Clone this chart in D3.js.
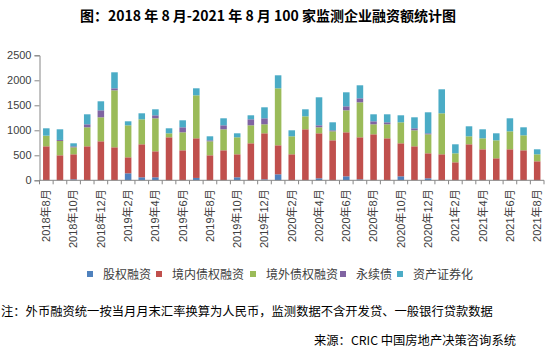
<!DOCTYPE html>
<html><head><meta charset="utf-8">
<script src="https://cdn.jsdelivr.net/npm/d3@7"></script>
<style>
html,body{margin:0;padding:0;background:#fff;}
svg{display:block;}
text{font-family:"Liberation Sans","Noto Sans CJK SC",sans-serif;}
</style></head>
<body>
<script>
const months = ["2018年8月","2018年9月","2018年10月","2018年11月","2018年12月","2019年1月","2019年2月","2019年3月","2019年4月","2019年5月","2019年6月","2019年7月","2019年8月","2019年9月","2019年10月","2019年11月","2019年12月","2020年1月","2020年2月","2020年3月","2020年4月","2020年5月","2020年6月","2020年7月","2020年8月","2020年9月","2020年10月","2020年11月","2020年12月","2021年1月","2021年2月","2021年3月","2021年4月","2021年5月","2021年6月","2021年7月","2021年8月"];
const equity    = [0,0,20,0,0,0,140,60,60,0,0,47,0,0,60,0,20,120,0,0,40,0,80,20,0,0,80,0,40,0,0,0,0,0,0,0,0];
const domestic  = [680,500,500,680,780,660,320,660,520,860,600,793,500,600,460,740,920,580,520,1020,900,800,880,840,920,840,660,680,500,520,360,720,620,440,620,600,380];
const overseas  = [213,287,140,380,480,1140,640,500,660,80,360,860,280,420,340,360,180,1140,360,260,120,180,440,700,200,280,420,320,380,820,180,160,220,360,360,300,140];
const perpetual = [0,20,20,60,140,40,0,0,60,0,100,0,20,80,0,120,120,0,0,0,40,20,80,80,60,40,0,40,20,0,0,0,0,0,0,0,0];
const abs       = [147,213,60,200,180,320,80,120,120,100,140,140,80,140,80,80,220,260,120,140,560,160,280,260,140,160,140,220,420,480,180,200,180,140,260,160,100];
const seriesNames = ["股权融资","境内债权融资","境外债权融资","永续债","资产证券化"];
const colors = ["#4F81BD","#C0504D","#9BBB59","#8064A2","#4BACC6"];
const yTicks = [0,500,1000,1500,2000,2500];
const titleText = "图：2018 年 8 月-2021 年 8 月 100 家监测企业融资额统计图";
const noteText = "注：外币融资统一按当月月末汇率换算为人民币，监测数据不含开发贷、一般银行贷款数据";
const sourceText = "来源：CRIC 中国房地产决策咨询系统";

const W = 558, H = 354;
const svg = d3.select("body").append("svg").attr("width", W).attr("height", H);

const keys = ["equity","domestic","overseas","perpetual","abs"];
const table = months.map((m,i)=>({month:m, equity:equity[i], domestic:domestic[i], overseas:overseas[i], perpetual:perpetual[i], abs:abs[i]}));
const stacked = d3.stack().keys(keys)(table);

const x0 = 39.5, x1 = 544;
const x = d3.scaleBand().domain(months).range([x0, x1]).paddingInner(0.52).paddingOuter(0.26);
const y = d3.scaleLinear().domain([0,2500]).range([180.3, 55.3]);

// bars
svg.append("g").selectAll("g").data(stacked).join("g")
  .attr("fill", (d,i)=>colors[i])
  .selectAll("rect").data(d=>d).join("rect")
  .attr("x", d=>x(d.data.month))
  .attr("width", x.bandwidth())
  .attr("y", d=>y(d[1]))
  .attr("height", d=>Math.max(0, y(d[0]) - y(d[1])));

const axisColor = "#868686";
// y axis
const yAxis = svg.append("g").attr("transform",`translate(${x0},0)`)
  .call(d3.axisLeft(y).tickValues(yTicks).tickSize(5).tickPadding(3).tickFormat(d3.format("d")));
yAxis.select(".domain").attr("stroke", axisColor);
yAxis.selectAll(".tick line").attr("stroke", axisColor);
yAxis.selectAll("text").attr("fill","#404040").style("font-size","11px");

// x axis with ticks at band boundaries
const xg = svg.append("g").attr("transform","translate(0,180.3)");
xg.append("line").attr("x1",x0).attr("x2",x1).attr("stroke",axisColor);
const bstep = (x1 - x0) / months.length;
xg.selectAll("line.tk").data(d3.range(months.length+1)).join("line").attr("class","tk")
  .attr("x1", i=> x0 + i*bstep).attr("x2", i=> x0 + i*bstep)
  .attr("y1",0).attr("y2",4).attr("stroke",axisColor);
xg.selectAll("text").data(months.filter((m,i)=>i%2===0)).join("text")
  .attr("transform", d=>`translate(${x(d)+x.bandwidth()/2},9) rotate(-90)`)
  .attr("text-anchor","end").attr("dy","0.35em")
  .attr("fill","#404040").style("font-size","11px")
  .text(d=>d);

// title
svg.append("text").attr("x",268).attr("y",20.5).attr("text-anchor","middle")
  .style("font-family","'Noto Sans CJK SC',sans-serif").style("font-weight","bold").style("font-size","14px")
  .attr("fill","#000").text(titleText);

// legend
const legendX = [87,156,250,340,397];
const lg = svg.append("g");
seriesNames.forEach((n,i)=>{
  lg.append("rect").attr("x",legendX[i]).attr("y",271).attr("width",6).attr("height",6).attr("fill",colors[i]);
  lg.append("text").attr("x",legendX[i]+16).attr("y",278.5)
    .style("font-family","'Noto Sans CJK SC',sans-serif").style("font-size","12px").attr("fill","#404040").text(n);
});

// note & source
svg.append("text").attr("x",1).attr("y",316)
  .style("font-family","'Noto Sans CJK SC',sans-serif").style("font-size","12.3px").attr("fill","#000").text(noteText);
svg.append("text").attr("x",516).attr("y",345).attr("text-anchor","end")
  .style("font-family","'Noto Sans CJK SC',sans-serif").style("font-size","12.3px").attr("fill","#000").text(sourceText);
</script>
</body></html>
